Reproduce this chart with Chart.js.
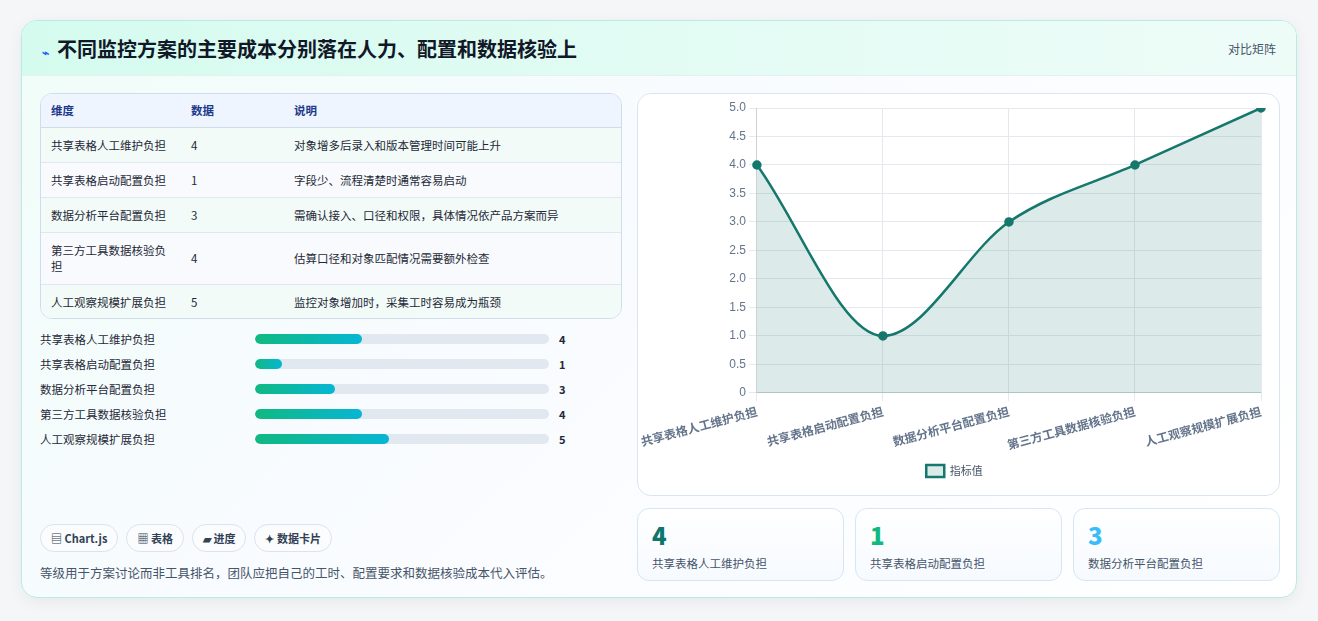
<!DOCTYPE html>
<html><head><meta charset="utf-8">
<script src="https://cdn.jsdelivr.net/npm/chart.js@4/dist/chart.umd.min.js"></script>
<style>
*{box-sizing:border-box;margin:0;padding:0}
body{width:1318px;height:621px;background:#f4f6f8;font-family:"Noto Sans CJK SC","Noto Sans",sans-serif;color:#1f2937;overflow:hidden}
.card{position:absolute;left:21px;top:20px;width:1276px;height:578px;border-radius:16px;background:linear-gradient(135deg,#f0fdf8,#f8fbff 40%,#fff);border:1px solid #b9ece0;box-shadow:0 4px 16px rgba(0,0,0,.06);overflow:hidden}
.hd{height:55px;background:linear-gradient(90deg,#d5fbef,#eefcf8);display:flex;align-items:center;justify-content:space-between;padding:0 20px;border-bottom:1px solid #e1f3ee}
.hd h1{font-size:20px;font-weight:700;color:#111827}
.hd h1 span{color:#2563eb;font-size:12px;margin-right:8px}
.hd .r{font-size:12px;color:#475569}
.tbl{position:absolute;left:18px;top:72px;width:582px;height:226px;border:1px solid #cfdceb;border-radius:12px;overflow:hidden;background:#fff}
table{width:100%;border-collapse:collapse;font-size:11.5px}
th{background:#eef5ff;color:#1e3a8a;text-align:left;font-weight:700;height:33px;padding:0 10px;border-bottom:1px solid #cfdceb}
td{padding:0 10px;height:35px;border-bottom:1px solid #dfe8f0;vertical-align:middle}
tr:nth-child(odd) td{background:#f8fafd}
tr:nth-child(even) td{background:#f2fbf8}
tr:last-child td{border-bottom:none}
.bars{position:absolute;left:18px;top:305px;width:560px}
.br{display:flex;align-items:center;height:25px;font-size:11.5px}
.br .l{width:215px}
.br .t{width:294px;height:10px;background:#e2e8f0;border-radius:5px;overflow:hidden}
.br .f{height:100%;border-radius:5px;background:linear-gradient(90deg,#10b981,#06b6d4)}
.br .v{margin-left:10px;font-weight:700;font-size:11px}
.tags{position:absolute;left:18px;top:503px;display:flex;gap:8px}
.tag{font-size:11px;font-weight:700;color:#334155;border:1px solid #dbe3ec;border-radius:14px;padding:5px 10px;background:#fafcfe}
.note{position:absolute;left:18px;top:542px;font-size:12.5px;color:#475569}
.cbox{position:absolute;left:615px;top:72px;width:643px;height:403px;border:1px solid #dbe5ef;border-radius:14px;background:#fff}
.stat{position:absolute;top:487px;width:207px;height:73px;border:1px solid #d6e6f3;border-radius:12px;background:linear-gradient(#fff,#f6faff);padding:12px 14px}
.stat b{display:block;font-size:24px;line-height:28px;font-weight:800}
.stat div{font-size:11.5px;color:#475569;margin-top:6px}
</style></head><body>
<div class="card">
  <div class="hd"><h1><span>⌁</span>不同监控方案的主要成本分别落在人力、配置和数据核验上</h1><div class="r">对比矩阵</div></div>
  <div class="tbl"><table id="tb"></table></div>
  <div class="bars" id="bars"></div>
  <div class="tags"><span class="tag">▤ Chart.js</span><span class="tag">▦ 表格</span><span class="tag">▰ 进度</span><span class="tag">✦ 数据卡片</span></div>
  <div class="note">等级用于方案讨论而非工具排名，团队应把自己的工时、配置要求和数据核验成本代入评估。</div>
  <div class="cbox"><canvas id="c" width="641" height="401"></canvas></div>
  <div id="stats"></div>
</div>
<script>
const categories = ['共享表格人工维护负担','共享表格启动配置负担','数据分析平台配置负担','第三方工具数据核验负担','人工观察规模扩展负担'];
const values = [4, 1, 3, 4, 5];
const notes = ['对象增多后录入和版本管理时间可能上升','字段少、流程清楚时通常容易启动','需确认接入、口径和权限，具体情况依产品方案而异','估算口径和对象匹配情况需要额外检查','监控对象增加时，采集工时容易成为瓶颈'];
const statColors = ['#0f766e','#10b981','#38bdf8'];

let h = '<tr><th style="width:140px">维度</th><th style="width:103px">数据</th><th>说明</th></tr>';
categories.forEach((c, i) => {
  h += `<tr><td style="${i===3?'height:52px;':''}">${c}</td><td>${values[i]}</td><td>${notes[i]}</td></tr>`;
});
document.getElementById('tb').innerHTML = h;
document.getElementById('bars').innerHTML = categories.map((c, i) =>
  `<div class="br"><div class="l">${c}</div><div class="t"><div class="f" style="width:${values[i]/11*100}%"></div></div><div class="v">${values[i]}</div></div>`).join('');
document.getElementById('stats').innerHTML = [0,1,2].map(i =>
  `<div class="stat" style="left:${615+i*218}px"><b style="color:${statColors[i]}">${values[i]}</b><div>${categories[i]}</div></div>`).join('');

new Chart(document.getElementById('c'), {
  type: 'line',
  data: { labels: categories, datasets: [{
    label: '指标值', data: values,
    borderColor: '#16786c', backgroundColor: 'rgba(22,120,108,.15)',
    fill: true, cubicInterpolationMode: 'monotone', borderWidth: 2.5,
    pointRadius: 3.5, pointBackgroundColor: '#16786c', pointBorderColor: '#16786c'
  }]},
  options: {
    responsive: false, animation: false, devicePixelRatio: 1,
    layout: { padding: { left: 10, right: 18, top: 14, bottom: 8 } },
    plugins: { legend: { position: 'bottom', labels: { color: '#475569', font: { size: 11, family: 'Noto Sans CJK SC' }, boxWidth: 18, boxHeight: 12 } } },
    scales: {
      x: { grid: { color: '#e5e9ef' }, ticks: { color: '#64748b', maxRotation: 15, minRotation: 15, font: { size: 12, weight: 'bold', family: 'Noto Sans CJK SC' } } },
      y: { min: 0, max: 5, grid: { color: '#e5e9ef' }, ticks: { stepSize: 0.5, color: '#64748b', font: { size: 12 } } }
    }
  }
});
</script>
</body></html>
